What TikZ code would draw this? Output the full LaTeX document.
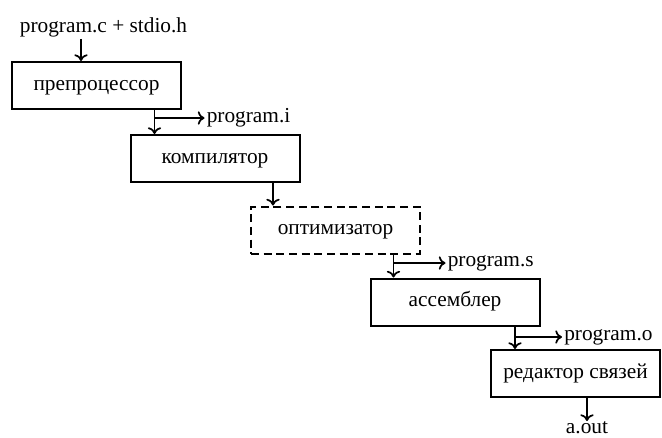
\documentclass[tikz,border=0pt]{standalone}
\usepackage{fontspec}
\setmainfont{Liberation Serif}
\usetikzlibrary{calc,arrows.meta}

\tikzset{
  stage/.style={draw,line width=1.5pt,minimum width=126.75pt,minimum height=35.25pt,
    inner sep=0pt,text height=0.7em,text depth=0.25em},
  optstage/.style={stage,dash pattern=on 6pt off 3.5pt},
  file/.style={inner sep=1.5pt},
  flow/.style={line width=1.3pt,-{To[length=5pt,width=10pt,line width=1.3pt]}}
}

\begin{document}
\begin{tikzpicture}[x=0.75pt,y=-0.75pt]
    \fontsize{16}{19}\selectfont
    \useasboundingbox (0,0) rectangle (662,437);

    % stages of translation
    \node[stage] (prep) at (96.5,85.5) {препроцессор};
    \node[stage] (comp) at (215,158.5) {компилятор};
    \node[optstage] (opt) at (335.5,230) {оптимизатор};
    \node[stage] (asm) at (455,302) {ассемблер};
    \node[stage] (ld) at (575.5,373.5) {редактор связей};

    % where the arrows come down
    \coordinate (d0) at ($(prep.north west)+(70,0)$);
    \coordinate (d1) at ($(comp.north west)+(25,0)$);
    \coordinate (d2) at ($(opt.north west)+(23,0)$);
    \coordinate (d3) at ($(asm.north west)+(24,0)$);
    \coordinate (d4) at ($(ld.north west)+(25,0)$);

    % files
    \node[file,anchor=base] (src) at (103.5,32) {program.c + stdio.h};
    \node[file,anchor=west] (fi) at ($(d1 |- prep.south)+(50,8)$) {program.i};
    \node[file,anchor=west] (fs) at ($(d3 |- opt.south)+(52,8.5)$) {program.s};
    \node[file,anchor=west] (fo) at ($(d4 |- asm.south)+(47,10.5)$) {program.o};
    \node[file,anchor=north,inner sep=0.5pt] (aout) at ($(ld.south)+(11.5,23)$) {a.out};

    \draw[flow] (d0 |- src.south) -- (d0);
    \draw[flow] (d1 |- prep.south) -- (d1);
    \draw[flow] (d2 |- comp.south) -- (d2);
    \draw[flow] (d3 |- opt.south) -- (d3);
    \draw[flow] (d4 |- asm.south) -- (d4);
    \draw[flow] (aout.north |- ld.south) -- (aout.north);

    \draw[flow] (fi.west -| d1) -- (fi.west);
    \draw[flow] (fs.west -| d3) -- (fs.west);
    \draw[flow] (fo.west -| d4) -- (fo.west);

\end{tikzpicture}
\end{document}
